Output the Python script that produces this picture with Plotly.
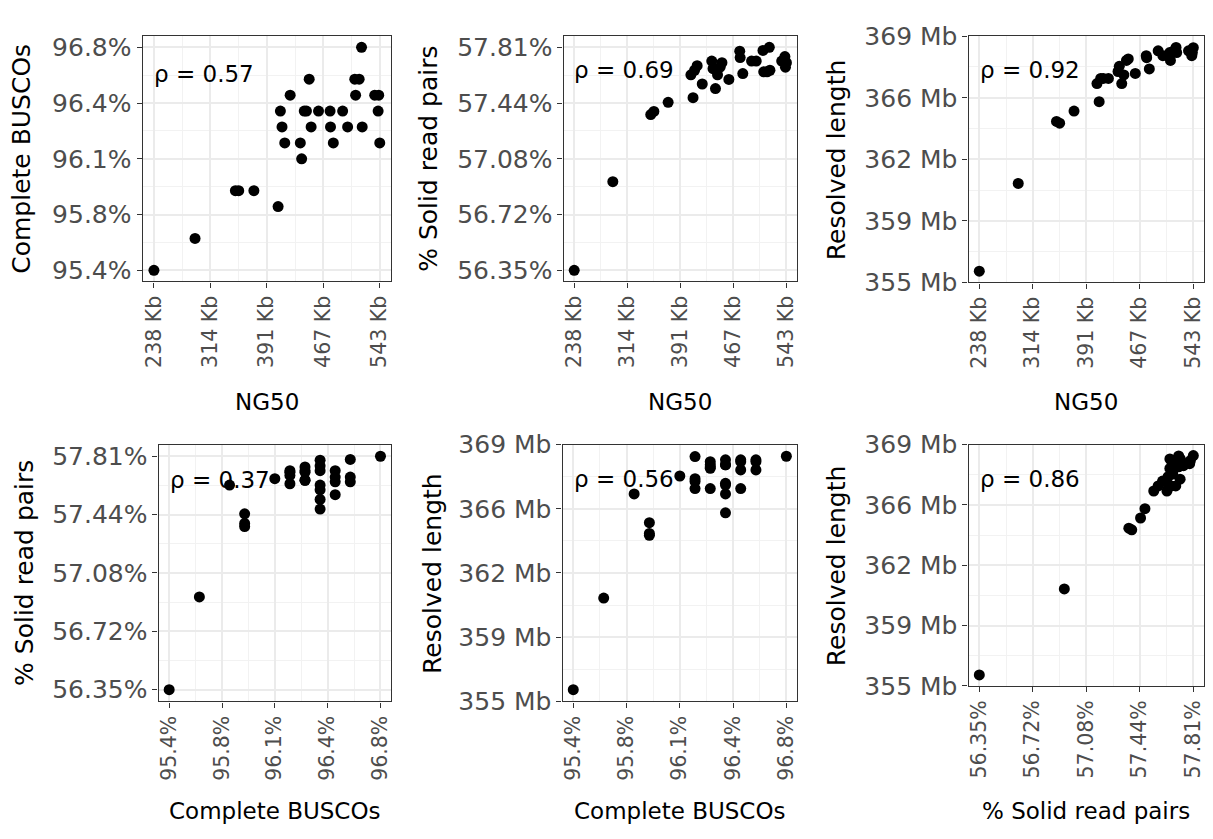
import plotly.graph_objects as go
import numpy as np

# ---- data (one entry per assembly) ----
ng50_kb = [238.0, 293.5, 348.0, 352.5, 373.0, 405.7, 408.8, 411.0, 414.7, 422.0,
           435.7, 437.5, 441.0, 444.0, 447.7, 450.3, 460.3, 475.9, 476.5, 480.3,
           492.9, 499.6, 509.3, 510.4, 515.2, 518.4, 519.3, 536.2, 540.8, 541.6, 543.0]
busco_pct = [95.4, 95.6, 95.9, 95.9, 95.9, 95.8, 96.4, 96.3, 96.2, 96.5,
             96.2, 96.1, 96.4, 96.4, 96.6, 96.3, 96.4, 96.4, 96.3, 96.2,
             96.4, 96.3, 96.6, 96.5, 96.6, 96.8, 96.3, 96.5, 96.4, 96.5, 96.2]
solid_pct = [56.35, 56.93, 57.37, 57.39, 57.45, 57.63, 57.48, 57.66, 57.69, 57.57,
             57.72, 57.67, 57.54, 57.63, 57.68, 57.71, 57.60, 57.785, 57.743, 57.638,
             57.72, 57.72, 57.79, 57.65, 57.65, 57.81, 57.66, 57.72, 57.75, 57.68, 57.71]
resolved_mb = [355.6, 360.7, 364.3, 364.2, 364.9, 366.5, 365.45, 366.8, 366.8, 366.8,
               367.2, 367.5, 366.5, 367.0, 367.84, 367.93, 367.09, 368.12, 368.0, 367.35,
               368.4, 368.12, 368.3, 367.84, 368.4, 368.6, 368.3, 368.4, 368.12, 368.3, 368.58]

ng50_ticks = ["238 Kb", "314 Kb", "391 Kb", "467 Kb", "543 Kb"]
busco_ticks = ["95.4%", "95.8%", "96.1%", "96.4%", "96.8%"]
solid_ticks = ["56.35%", "56.72%", "57.08%", "57.44%", "57.81%"]
resolved_ticks = ["355 Mb", "359 Mb", "362 Mb", "366 Mb", "369 Mb"]

rho_labels = ["0.57", "0.69", "0.92", "0.37", "0.56", "0.86"]

W, H = 1213, 839
FONT = "DejaVu Sans, Liberation Sans, Arial, sans-serif"

def fx(px):
    return px / W

def fy(py):
    return 1 - py / H

def axis_spec(vals, labels, kind):
    lo, hi = min(vals), max(vals)
    rng = [lo - 0.05 * (hi - lo), hi + 0.05 * (hi - lo)]
    if kind == "edge":
        br = list(np.linspace(rng[0], rng[1], 5))
    else:
        br = list(np.linspace(lo, hi, 5))
    minor = [(br[i] + br[i + 1]) / 2 for i in range(4)]
    return rng, br, minor, labels

vars_ = {
    "ng50": (ng50_kb, ng50_ticks, "data", "NG50"),
    "busco": (busco_pct, busco_ticks, "data", "Complete BUSCOs"),
    "solid": (solid_pct, solid_ticks, "data", "% Solid read pairs"),
    "res": (resolved_mb, resolved_ticks, "edge", "Resolved length"),
}

panels = [
    # xvar, yvar, x-domain px, y-domain px (top, bottom), rho text pos, ytitle x, xtitle y
    ("ng50", "busco", (141, 390), (23, 277), (150, 62), 20, 402),
    ("ng50", "solid", (563, 797), (23, 277), (571, 58), 428, 402),
    ("ng50", "res", (969, 1205), (23, 278), (978, 58), 836, 402),
    ("busco", "solid", (157, 390), (446, 712), (166, 483), 23, 826),
    ("busco", "res", (562, 797), (446, 712), (571, 482), 432, 826),
    ("solid", "res", (969, 1205), (446, 696), (978, 482), 836, 826),
]

fig = go.Figure()
annotations = []
layout = {}

for i, (xv, yv, xd, yd, rpos, ytx, xty) in enumerate(panels):
    n = i + 1
    xs = vars_[xv][0]
    ys = vars_[yv][0]
    xref = "x" if n == 1 else f"x{n}"
    yref = "y" if n == 1 else f"y{n}"
    fig.add_trace(go.Scatter(
        x=xs, y=ys, mode="markers", xaxis=xref, yaxis=yref,
        marker=dict(color="black", size=11, line=dict(width=0)),
        showlegend=False, hoverinfo="skip"))

    xr, xb, xm, xl = axis_spec(xs, vars_[xv][1], vars_[xv][2])
    yr, yb, ym, yl = axis_spec(ys, vars_[yv][1], vars_[yv][2])

    common = dict(
        showline=True, mirror=True, linecolor="#333333", linewidth=1.3,
        ticks="outside", ticklen=5, tickwidth=1.3, tickcolor="#333333",
        showgrid=True, gridcolor="#EBEBEB", gridwidth=1.6,
        zeroline=False, tickmode="array",
    )
    xk = "xaxis" if n == 1 else f"xaxis{n}"
    yk = "yaxis" if n == 1 else f"yaxis{n}"
    layout[xk] = dict(common, domain=[fx(xd[0]), fx(xd[1])], range=xr,
                      tickvals=xb, ticktext=xl, tickangle=-90,
                      tickfont=dict(family=FONT, size=20.5, color="#4D4D4D"),
                      anchor=yref,
                      minor=dict(tickmode="array", tickvals=xm, showgrid=True,
                                 gridcolor="#F2F2F2", gridwidth=0.8, ticks=""))
    layout[yk] = dict(common, domain=[fy(yd[1]), fy(yd[0])], range=yr,
                      tickvals=yb, ticktext=yl,
                      tickfont=dict(family=FONT, size=25, color="#4D4D4D"),
                      anchor=xref,
                      minor=dict(tickmode="array", tickvals=ym, showgrid=True,
                                 gridcolor="#F2F2F2", gridwidth=0.8, ticks=""))

    annotations.append(dict(
        x=fx(rpos[0]), y=fy(rpos[1]), xref="paper", yref="paper",
        text="\u03c1 = " + rho_labels[i], showarrow=False,
        xanchor="left", yanchor="middle",
        font=dict(family=FONT, size=23, color="black")))
    # x title
    annotations.append(dict(
        x=fx((xd[0] + xd[1]) / 2), y=fy(xty), xref="paper", yref="paper",
        text=vars_[xv][3], showarrow=False, xanchor="center", yanchor="middle",
        font=dict(family=FONT, size=23, color="black")))
    # y title
    annotations.append(dict(
        x=fx(ytx), y=fy((yd[0] + yd[1]) / 2), xref="paper", yref="paper",
        text=vars_[yv][3], showarrow=False, xanchor="center", yanchor="middle",
        textangle=-90,
        font=dict(family=FONT, size=25, color="black")))

fig.update_layout(
    width=W, height=H,
    margin=dict(l=0, r=0, t=0, b=0),
    paper_bgcolor="white", plot_bgcolor="white",
    annotations=annotations,
    **layout,
)

fig.write_html("out.html")
